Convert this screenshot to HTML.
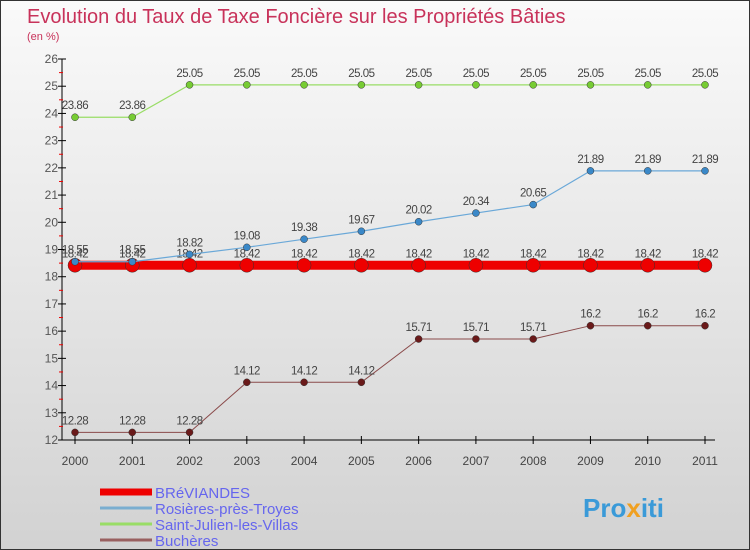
<!DOCTYPE html>
<html><head><meta charset="utf-8"><style>
body{margin:0;width:750px;height:550px;overflow:hidden;font-family:"Liberation Sans",sans-serif}
#c{position:absolute;left:0;top:0}
</style></head><body>
<svg id="c" width="750" height="550" xmlns="http://www.w3.org/2000/svg">
<defs><linearGradient id="bg" x1="0" y1="0" x2="0" y2="1"><stop offset="0" stop-color="#fafafa"/><stop offset="1" stop-color="#d2d2d2"/></linearGradient></defs>
<rect x="0.5" y="0.5" width="749" height="549" fill="url(#bg)" stroke="#333"/>
<text x="27" y="23" font-size="20" fill="#c8325a">Evolution du Taux de Taxe Foncière sur les Propriétés Bâties</text>
<text x="27" y="40" font-size="11" fill="#c8325a">(en %)</text>
<g id="axes"></g><g id="series"></g><g id="legend"></g>
</svg>
<script>
const years=["2000","2001","2002","2003","2004","2005","2006","2007","2008","2009","2010","2011"];
const yTicks=[12,13,14,15,16,17,18,19,20,21,22,23,24,25,26];
const breviandes=[18.42,18.42,18.42,18.42,18.42,18.42,18.42,18.42,18.42,18.42,18.42,18.42];
const rosieres=[18.55,18.55,18.82,19.08,19.38,19.67,20.02,20.34,20.65,21.89,21.89,21.89];
const stjulien=[23.86,23.86,25.05,25.05,25.05,25.05,25.05,25.05,25.05,25.05,25.05,25.05];
const bucheres=[12.28,12.28,12.28,14.12,14.12,14.12,15.71,15.71,15.71,16.2,16.2,16.2];
const NS="http://www.w3.org/2000/svg";
const X=i=>75+i*(630/11);
const Y=v=>440-(v-12)*(381/14);
function el(t,a,p){const e=document.createElementNS(NS,t);for(const k in a)e.setAttribute(k,a[k]);p.appendChild(e);return e;}
const ax=document.getElementById('axes');
let e=el('line',{x1:62,y1:59,x2:62,y2:440,stroke:'#000'},ax);


e=el('line',{x1:62,y1:440,x2:715,y2:440,stroke:'#000'},ax);


yTicks.forEach(v=>{
 el('line',{x1:58,y1:Y(v),x2:66,y2:Y(v),stroke:'#000'},ax);
 if(v<26) el('line',{x1:59,y1:Y(v+0.5),x2:63,y2:Y(v+0.5),stroke:'#e00'},ax);
 const t=el('text',{x:58,y:Y(v)+4,'font-size':12,fill:'#555','text-anchor':'end'},ax);t.textContent=v;
 
 
});
years.forEach((y,i)=>{
 el('line',{x1:X(i),y1:436,x2:X(i),y2:444,stroke:'#000'},ax);
 const t=el('text',{x:X(i),y:465,'font-size':12,fill:'#444','text-anchor':'middle'},ax);t.textContent=y;
 
 
});
const sg=document.getElementById('series');
function series(data,color,w,r,dot,name){
 const g=el('g',{},sg);
 
 
 el('polyline',{points:data.map((v,i)=>X(i)+','+Y(v)).join(' '),fill:'none',stroke:color,'stroke-width':w},g);
 data.forEach((v,i)=>{
  const c=el('circle',{cx:X(i),cy:Y(v),r:r,fill:dot,stroke:'#333','stroke-width':0.5},g);
  
  
  const t=el('text',{x:X(i),y:Y(v)-8,'font-size':11.5,fill:'#444','text-anchor':'middle','letter-spacing':'-0.5'},g);t.textContent=String(v);
  
  
 });
}
series(bucheres,'#8a4a4a',1,3.5,'#6a1a1a','bucheres-series');
series(stjulien,'#99dd66',1.2,3.5,'#77cc33','saint-julien-series');
series(breviandes,'#ee0000',9,7,'#ee0000','breviandes-series');
series(rosieres,'#6aa8d8',1.2,3.5,'#3a88c8','rosieres-series');
const lg=document.getElementById('legend');
const names=["BRéVIANDES","Rosières-près-Troyes","Saint-Julien-les-Villas","Buchères"];
const cols=["#ee0000","#7aaed0","#99dd66","#996060"];
const ws=[7,3,3,3];
names.forEach((n,i)=>{
 const y=492+i*16;
 const g=el('g',{},lg);
 
 
 el('line',{x1:100,y1:y,x2:152,y2:y,stroke:cols[i],'stroke-width':ws[i]},g);
 const t=el('text',{x:155,y:y+6,'font-size':15,fill:'#6666ee'},g);t.textContent=n;
});
const p=el('text',{x:583,y:517,'font-size':26,'font-weight':'bold',fill:'#3a9ad8'},lg);
p.innerHTML='Pro<tspan fill="#f0a020">x</tspan>iti';


</script>
</body></html>
